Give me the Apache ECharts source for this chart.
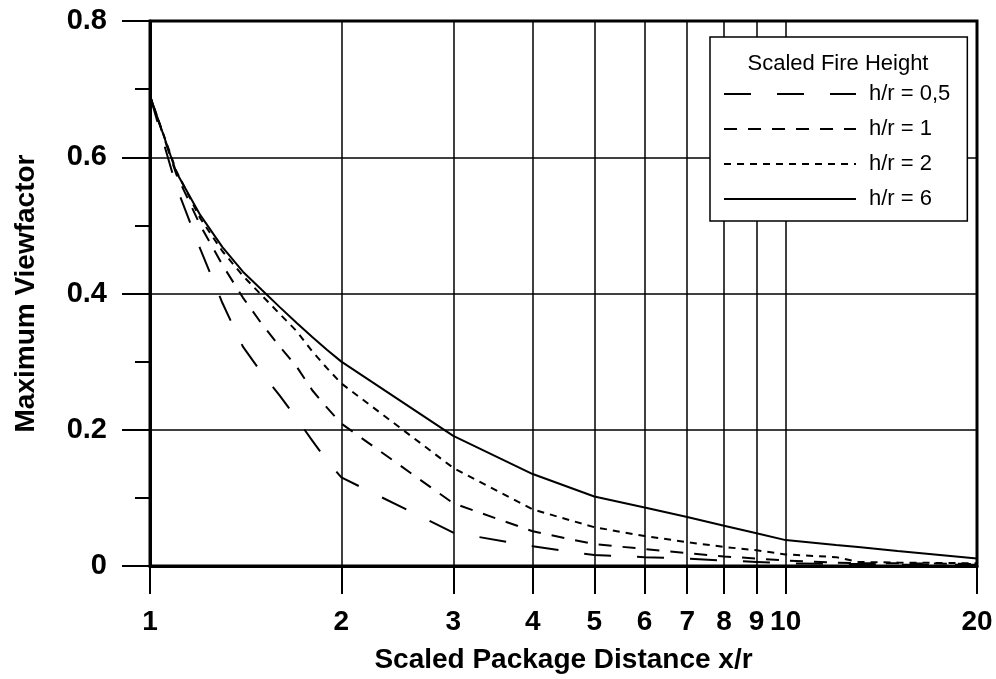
<!DOCTYPE html>
<html>
<head>
<meta charset="utf-8">
<script src="https://cdn.jsdelivr.net/npm/echarts@6/dist/echarts.min.js"></script>
<style>
    html, body {margin: 0; padding: 0; background: #fff;}
    #chartBox {width: 996px; height: 679px;}
</style>
</head>
<body>
<div id="chartBox"></div>
<script>
// scaled package distance x/r (shared by all curves)
let distance = [1, 1.1, 1.2, 1.3, 1.4, 1.5, 1.6, 1.7, 1.8, 1.9, 2, 3, 4, 5, 6, 7, 8, 9, 10, 12, 13, 15, 20];
// maximum viewfactor per scaled fire height
let vf05 = [0.69, 0.557, 0.465, 0.386, 0.322, 0.283, 0.25, 0.217, 0.184, 0.154, 0.13, 0.049, 0.029, 0.016, 0.013, 0.011, 0.008, 0.006, 0.004, 0.003, 0.003, 0.002, 0.002];
let vf1 = [0.69, 0.575, 0.5, 0.442, 0.394, 0.355, 0.322, 0.293, 0.258, 0.232, 0.209, 0.092, 0.051, 0.032, 0.025, 0.019, 0.014, 0.011, 0.008, 0.005, 0.004, 0.004, 0.003];
let vf2 = [0.69, 0.58, 0.51, 0.462, 0.426, 0.397, 0.37, 0.345, 0.315, 0.29, 0.268, 0.144, 0.083, 0.057, 0.044, 0.035, 0.028, 0.023, 0.017, 0.013, 0.006, 0.005, 0.004];
let vf6 = [0.69, 0.578, 0.515, 0.468, 0.432, 0.405, 0.38, 0.357, 0.336, 0.317, 0.3, 0.191, 0.135, 0.102, 0.086, 0.072, 0.059, 0.048, 0.038, 0.031, 0.028, 0.022, 0.011];
// axis ticks
let xTicks = [1, 2, 3, 4, 5, 6, 7, 8, 9, 10, 20];
let yTicks = [0, 0.2, 0.4, 0.6, 0.8];

let font = 'Liberation Sans, Arial, sans-serif';
let lg = function (v) { return Math.log10(v); };

function pairs(ys) {
    return distance.map(function (d, i) { return [lg(d), ys[i]]; });
}

function line(name, ys, dash) {
    return {
        name: name, type: 'line', data: pairs(ys),
        symbol: 'none', smooth: false,
        lineStyle: {color: '#000', width: 2, type: dash},
        itemStyle: {color: '#000'}
    };
}

let chartBox = echarts.init(document.getElementById('chartBox'));
let option = {
    animation: false,
    backgroundColor: '#fff',
    grid: {left: 150, right: 19, top: 21, bottom: 108, show: true, borderColor: '#000', borderWidth: 3},
    legend: {
        orient: 'vertical', left: 710, top: 37,
        padding: [46, 17, 11, 13],
        backgroundColor: '#fff', borderColor: '#000', borderWidth: 1.5,
        itemWidth: 132, itemHeight: 20, itemGap: 13,
        // hide the marker circle, keep only the line sample
        itemStyle: {color: 'rgba(0,0,0,0)', borderColor: 'rgba(0,0,0,0)', borderWidth: 0, opacity: 0},
        textStyle: {color: '#000', fontSize: 22, fontFamily: font, padding: [0, 0, 0, 8], lineHeight: 20},
        data: ['h/r = 0,5', 'h/r = 1', 'h/r = 2', 'h/r = 6']
    },
    graphic: [{
        type: 'text', x: 838, y: 64, z: 100,
        style: {text: 'Scaled Fire Height', fill: '#000', font: '22px ' + font, align: 'center', verticalAlign: 'middle'}
    }],
    xAxis: {
        type: 'value', min: 0, max: lg(20),
        name: 'Scaled Package Distance x/r', nameLocation: 'middle', nameGap: 80,
        nameTextStyle: {color: '#000', fontSize: 28, fontWeight: 'bold', fontFamily: font},
        axisLine: {show: true, onZero: false, lineStyle: {color: '#000', width: 3}},
        axisTick: {show: true, length: 28, lineStyle: {color: '#000', width: 2}, customValues: xTicks.map(lg)},
        axisLabel: {
            color: '#000', fontSize: 28, fontWeight: 'bold', fontFamily: font, margin: 42,
            customValues: xTicks.map(lg),
            formatter: function (v) { return String(Math.round(Math.pow(10, v))); }
        },
        splitLine: {show: true, lineStyle: {color: '#000', width: 1.5}}
    },
    yAxis: {
        type: 'value', min: 0, max: 0.8, interval: 0.2,
        name: 'Maximum Viewfactor', nameLocation: 'middle', nameGap: 110,
        nameTextStyle: {color: '#000', fontSize: 28, fontWeight: 'bold', fontFamily: font},
        axisLine: {show: true, lineStyle: {color: '#000', width: 3}},
        axisTick: {show: true, length: 28, lineStyle: {color: '#000', width: 2}},
        minorTick: {show: true, splitNumber: 2, length: 15, lineStyle: {color: '#000', width: 2}},
        axisLabel: {
            color: '#000', fontSize: 29, fontWeight: 'bold', fontFamily: font, margin: 43,
            customValues: yTicks
        },
        splitLine: {show: true, lineStyle: {color: '#000', width: 1.5}}
    },
    series: [
        line('h/r = 0,5', vf05, [27, 26]),
        line('h/r = 1', vf1, [13, 11]),
        line('h/r = 2', vf2, [7, 6]),
        line('h/r = 6', vf6, 'solid')
    ]
};
chartBox.setOption(option, true);
</script>
</body>
</html>
